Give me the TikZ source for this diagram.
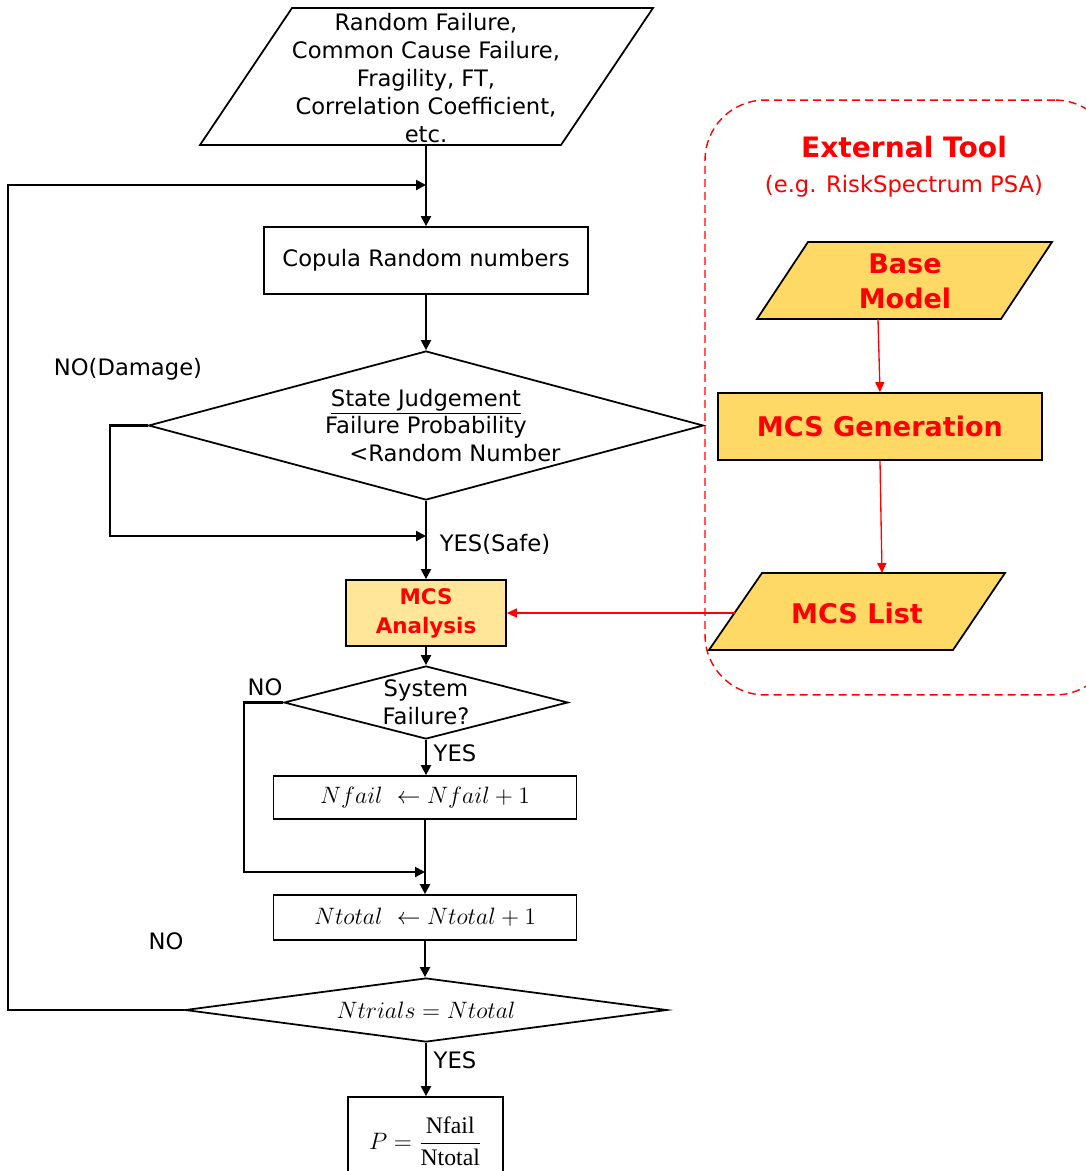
\RequirePackage{fix-cm}
\documentclass[tikz,border=0pt]{standalone}
\usepackage{fontspec}
\setmainfont{DejaVu Sans}
\newfontfamily\fracfont{Liberation Serif}
\usetikzlibrary{shapes.geometric,arrows.meta}
\definecolor{toolred}{HTML}{FF0000}
\definecolor{toolfill}{HTML}{FFD966}
\definecolor{mcsfill}{HTML}{FFE699}
\begin{document}
\begin{tikzpicture}[x=0.02cm,y=-0.02cm,
  font=\fontsize{12.9}{15.9}\selectfont,
  box/.style={draw,line width=1pt,inner sep=0pt},
  decision/.style={draw,diamond,line width=1pt,inner sep=0pt},
  data/.style={draw,line width=1pt,line join=miter},
  mathtext/.style={font=\fontsize{13.5}{16}\selectfont},
  flow/.style={line width=1.2pt,-{Triangle[length=0.2cm,width=0.2cm]}},
  toolflow/.style={toolred,line width=0.75pt,-{Triangle[length=0.2cm,width=0.18cm]}},
  tooltext/.style={text=toolred,font=\fontsize{15.4}{19.9}\selectfont\bfseries}]
\useasboundingbox (0,0) rectangle (1086,1171);

% Input data
\draw[data] (200,145) -- (292,8) -- (653,8) -- (561,145) -- cycle;
\node[align=center,inner sep=0pt] (inp) at (426,78)
  {Random Failure,\\Common Cause Failure,\\Fragility, FT,\\Correlation Coefficient,\\etc.};
\coordinate (inpbot) at (426,145);

% Main loop
\node[box,minimum width=6.48cm,minimum height=1.34cm] (copula) at (426,260.5) {Copula Random numbers};
\node[decision,minimum width=11.1cm,minimum height=2.98cm,
  label={[align=center]center:\underline{State Judgement}\\Failure Probability\\\hspace*{1.16cm}<Random Number}]
  (judge) at (426,425.5) {};
\node[box,fill=mcsfill,minimum width=3.2cm,minimum height=1.32cm,align=center,
  text=toolred,font=\fontsize{12.2}{16.5}\selectfont\bfseries] (mcsan) at (426,613) {MCS\\Analysis};
\node[decision,minimum width=5.68cm,minimum height=1.46cm,
  label={[align=center]center:System\\Failure?}] (sysf) at (426,702.5) {};
\node[box,mathtext,minimum width=6.06cm,minimum height=0.86cm] (nfail) at (425,797.5) {$Nfail\ \leftarrow Nfail+1$};
\node[box,mathtext,minimum width=6.06cm,minimum height=0.9cm] (ntotal) at (425,917.5) {$Ntotal\ \leftarrow Ntotal+1$};
\node[decision,minimum width=9.64cm,minimum height=1.28cm,
  label={[mathtext]center:$Ntrials = Ntotal$}] (ntrials) at (426,1010) {};
\node[box,mathtext,minimum width=3.1cm,minimum height=1.76cm] (result) at (425.5,1141)
  {$\displaystyle P=\frac{\hbox{\fracfont Nfail}}{\hbox{\fracfont Ntotal}}$};

\coordinate (loopin) at (426,185);
\coordinate (safein) at (426,536);
\coordinate (nofail) at (425,872);

\draw[flow] (inpbot) -- (copula.north);
\draw[flow] (copula.south) -- (judge.north);
\draw[flow] (judge.south) -- (mcsan.north);
\draw[flow] (mcsan.south) -- (sysf.north);
\draw[flow] (sysf.south) -- (sysf.south |- nfail.north);
\draw[flow] (nfail.south) -- (ntotal.north);
\draw[flow] (ntotal.south) -- (ntotal.south |- ntrials.north);
\draw[flow] (ntrials.south) -- (ntrials.south |- result.north);
% Branches
\draw[flow] (judge.west) -- ++(-38,0) |- (safein);
\draw[flow] (sysf.west) -- ++(-39,0) |- (nofail);
\draw[flow] (ntrials.west) -- ++(-176,0) |- (loopin);

\node (nodamage) at (128,369) {NO(Damage)};
\node (yessafe) at (495,544) {YES(Safe)};
\node (nosys) at (265,687) {NO};
\node (yessys) at (455,753) {YES};
\node (notrials) at (166,941) {NO};
\node (yestrials) at (455,1060) {YES};

% External tool
\node[draw=toolred,dash pattern=on 0.16cm off 0.1cm,line width=0.8pt,rounded corners=1.2cm,
  minimum width=8.2cm,minimum height=11.9cm] (tool) at (910,397.5) {};
\node[text=toolred,font=\fontsize{16}{19}\selectfont\bfseries] (tooltitle) at (904,147) {External Tool};
\node[text=toolred] (toolsub) at (904,186) {(e.g. RiskSpectrum PSA)};
\draw[data,fill=toolfill] (757,319) -- (808,242) -- (1052,242) -- (1001,319) -- cycle;
\node[tooltext,align=center] (base) at (905,281.5) {Base\\Model};
\coordinate (basebot) at (878,319);
\node[box,fill=toolfill,tooltext,minimum width=6.48cm,minimum height=1.34cm] (mcsgen) at (880,426.5) {MCS Generation};
\draw[data,fill=toolfill] (709,650) -- (762,573) -- (1005,573) -- (953,650) -- cycle;
\node[tooltext] (mcslist) at (857,613) {MCS List};
\coordinate (listtop) at (882,573);
\coordinate (listleft) at (735,613);

\draw[toolflow] (basebot) -- (mcsgen.north);
\draw[toolflow] (mcsgen.south) -- (listtop);
\draw[toolflow] (listleft) -- (mcsan.east);
\end{tikzpicture}
\end{document}
